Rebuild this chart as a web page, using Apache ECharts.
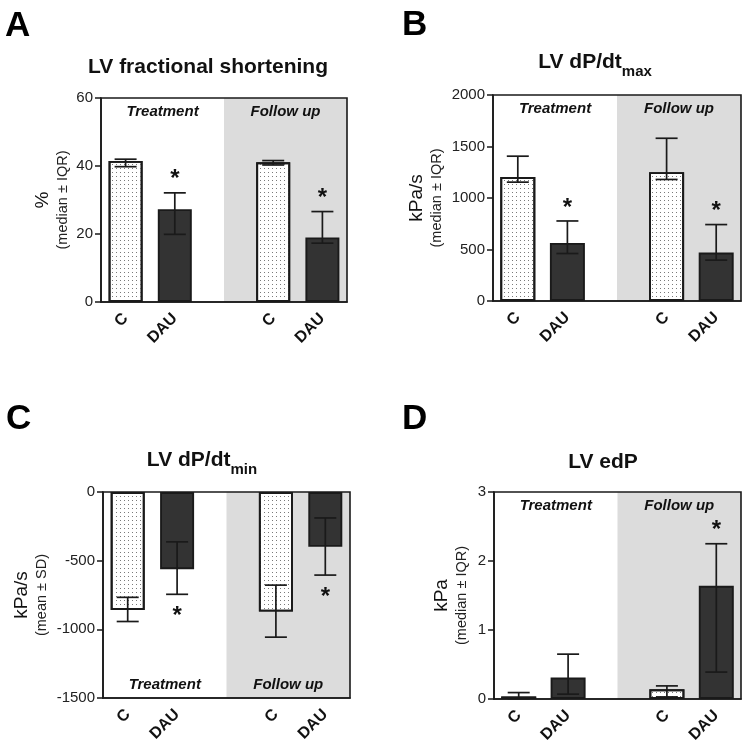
<!DOCTYPE html>
<html>
<head>
<meta charset="utf-8">
<script src="https://cdn.jsdelivr.net/npm/echarts@6/dist/echarts.min.js"></script>
<style>
html,body{margin:0;padding:0;background:#fff;}
#main{width:747px;height:747px;}
</style>
</head>
<body>
<div id="main"></div>
<script>
// ---------- data ----------
const categories = ['C', 'DAU', '', 'C', 'DAU'];
const barSlots = [0, 1, 3, 4];           // category index of each bar
const sections = ['Treatment', 'Follow up'];

// A: LV fractional shortening (%)
const fsValue = [41.5, 27.3, 41.1, 19.0];
const fsLow   = [39.8, 19.9, 40.3, 17.3];
const fsHigh  = [42.0, 32.1, 41.6, 26.6];
const fsSig   = [0, 1, 0, 1];
const fsTicks = [0, 20, 40, 60];

// B: LV dP/dt max (kPa/s)
const maxValue = [1203, 564, 1251, 471];
const maxLow   = [1154, 461, 1180, 397];
const maxHigh  = [1406, 777, 1580, 742];
const maxSig   = [0, 1, 0, 1];
const maxTicks = [0, 500, 1000, 1500, 2000];

// C: LV dP/dt min (kPa/s)
const minValue = [-859, -562, -871, -399];
const minLow   = [-943, -745, -1057, -605];
const minHigh  = [-767, -363, -678, -189];
const minSig   = [0, 1, 0, 1];
const minTicks = [-1500, -1000, -500, 0];

// D: LV edP (kPa)
const edpValue = [0.035, 0.31, 0.14, 1.64];
const edpLow   = [0.005, 0.07, 0.03, 0.39];
const edpHigh  = [0.093, 0.65, 0.19, 2.25];
const edpSig   = [0, 0, 0, 1];
const edpTicks = [0, 1, 2, 3];

// ---------- layout / style ----------
const FONT = 'Liberation Sans, Arial, Helvetica, sans-serif';
const INK = '#1a1a1a';
const panels = [
  {letter:'A', title:'{m|LV fractional shortening}', unit:'%', stat:'(median ± IQR)',
   value:fsValue, low:fsLow, high:fsHigh, sig:fsSig, ticks:fsTicks,
   grid:{left:101, top:98, width:246, height:204}, barW:34, nameGap:30, labelPos:'insideTop', starUp:true,
   titleX:208, titleY:52, letterX:5, letterY:9},
  {letter:'B', title:'{m|LV dP/dt}{s|max}', unit:'kPa/s', stat:'(median ± IQR)',
   value:maxValue, low:maxLow, high:maxHigh, sig:maxSig, ticks:maxTicks,
   grid:{left:493, top:95, width:248, height:206}, barW:35, nameGap:48, labelPos:'insideTop', starUp:true,
   titleX:595, titleY:47, letterX:402, letterY:8},
  {letter:'C', title:'{m|LV dP/dt}{s|min}', unit:'kPa/s', stat:'(mean ± SD)',
   value:minValue, low:minLow, high:minHigh, sig:minSig, ticks:minTicks,
   grid:{left:103, top:492, width:247, height:206}, barW:34, nameGap:53, labelPos:'insideBottom', starUp:false,
   titleX:202, titleY:445, letterX:6, letterY:402},
  {letter:'D', title:'{m|LV edP}', unit:'kPa', stat:'(median ± IQR)',
   value:edpValue, low:edpLow, high:edpHigh, sig:edpSig, ticks:edpTicks,
   grid:{left:494, top:492, width:247, height:207}, barW:35, nameGap:24, labelPos:'insideTop', starUp:true,
   titleX:603, titleY:447, letterX:402, letterY:402}
];

const titleRich = {
  m:{fontSize:21, fontWeight:'bold', fontFamily:FONT, color:'#111', lineHeight:26, verticalAlign:'bottom'},
  s:{fontSize:15, fontWeight:'bold', fontFamily:FONT, color:'#111', lineHeight:26, verticalAlign:'bottom', padding:[0,0,-6,0]}
};

const dotDecal = {symbol:'rect', symbolSize:1, dashArrayX:[1,3], dashArrayY:[1,3], color:'#7a7a7a', rotation:0};

const option = {
  animation:false,
  backgroundColor:'#fff',
  title:[], grid:[], xAxis:[], yAxis:[], series:[]
};

panels.forEach((p, i) => {
  option.title.push({text:p.letter, left:p.letterX, top:p.letterY, padding:0,
    textStyle:{fontSize:35, fontWeight:'bold', fontFamily:FONT, color:'#000'}});
  option.title.push({text:p.title, left:p.titleX, top:p.titleY, textAlign:'center', padding:0,
    textStyle:{rich:titleRich}});
  option.grid.push(Object.assign({show:true, z:10, backgroundColor:'transparent',
    borderColor:INK, borderWidth:1.6}, p.grid));
  option.xAxis.push({gridIndex:i, type:'value', min:0, max:categories.length, interval:0.5, z:10,
    axisLine:{onZero:false, lineStyle:{color:INK, width:1.6}},
    axisTick:{show:false}, splitLine:{show:false},
    axisLabel:{rotate:45, margin:14, fontSize:16, fontWeight:'bold', fontFamily:FONT, color:'#111',
      formatter:v => { const k = v - 0.5; return Number.isInteger(k) ? (categories[k] || '') : ''; }}});
  const tk = p.ticks;
  option.yAxis.push({gridIndex:i, type:'value', min:tk[0], max:tk[tk.length-1], interval:tk[1]-tk[0], z:10,
    axisLine:{show:true, onZero:false, lineStyle:{color:INK, width:1.6}},
    axisTick:{show:true, length:6, lineStyle:{color:INK, width:1.5}},
    splitLine:{show:false},
    axisLabel:{fontSize:15, fontFamily:FONT, color:'#222', margin:8, formatter:v => String(v)},
    name:'{a|' + p.unit + '}\n{b|' + p.stat + '}', nameLocation:'middle', nameGap:p.nameGap,
    nameTextStyle:{rich:{
      a:{fontSize:19, fontFamily:FONT, color:'#111', lineHeight:22, align:'center'},
      b:{fontSize:14.5, fontFamily:FONT, color:'#222', lineHeight:17, align:'center'}}}});

  const xs = barSlots.map(k => k + 0.5);
  const barData = p.value.map((v, j) => ({
    value:[xs[j], v],
    itemStyle: categories[barSlots[j]] === 'C'
      ? {color:'#fff', borderColor:INK, borderWidth:1.9, decal:dotDecal}
      : {color:'#333', borderColor:INK, borderWidth:1.9}
  }));
  const sectLabel = {show:true, position:p.labelPos, distance:6, color:'#111', fontSize:15,
    fontWeight:'bold', fontStyle:'italic', fontFamily:FONT};
  option.series.push({
    type:'bar', xAxisIndex:i, yAxisIndex:i, barWidth:p.barW, data:barData, z:3,
    markArea:{silent:true, z:1, data:[
      [{name:sections[0], xAxis:0, itemStyle:{color:'rgba(0,0,0,0)'}, label:sectLabel}, {xAxis:2.5}],
      [{name:sections[1], xAxis:2.5, itemStyle:{color:'#dcdcdc'}, label:sectLabel}, {xAxis:categories.length}]
    ]}
  });
  option.series.push({
    type:'custom', xAxisIndex:i, yAxisIndex:i, z:5,
    data:p.value.map((v, j) => [xs[j], p.low[j], p.high[j]]),
    encode:{x:0, y:[1,2]},
    renderItem:(params, api) => {
      const x = api.value(0);
      const lo = api.coord([x, api.value(1)]);
      const hi = api.coord([x, api.value(2)]);
      const w = 11;
      const st = {stroke:INK, lineWidth:1.7};
      return {type:'group', children:[
        {type:'line', shape:{x1:lo[0], y1:lo[1], x2:hi[0], y2:hi[1]}, style:st},
        {type:'line', shape:{x1:hi[0]-w, y1:hi[1], x2:hi[0]+w, y2:hi[1]}, style:st},
        {type:'line', shape:{x1:lo[0]-w, y1:lo[1], x2:lo[0]+w, y2:lo[1]}, style:st}
      ]};
    }
  });
  const starData = [];
  p.sig.forEach((s, j) => { if (s) starData.push([xs[j], p.starUp ? p.high[j] : p.low[j]]); });
  option.series.push({
    type:'custom', xAxisIndex:i, yAxisIndex:i, z:6,
    data:starData, encode:{x:0, y:1},
    renderItem:(params, api) => {
      const pt = api.coord([api.value(0), api.value(1)]);
      const y = p.starUp ? pt[1] - 13 : pt[1] + 22;
      return {type:'text', x:pt[0], y:y, style:{text:'*', fontSize:24, fontWeight:'bold',
        fontFamily:FONT, fill:'#111', align:'center', verticalAlign:'middle'}};
    }
  });
});

const chart = echarts.init(document.getElementById('main'), null, {renderer:'canvas'});
chart.setOption(option);
</script>
</body>
</html>
